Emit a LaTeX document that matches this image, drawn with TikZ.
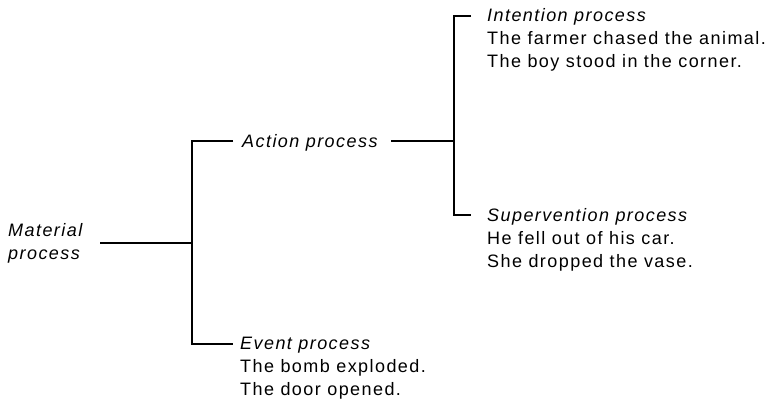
\documentclass[tikz,border=0pt]{standalone}
\usepackage{fontspec}
\setmainfont{Liberation Sans}[LetterSpace=8]
\begin{document}
\begin{tikzpicture}[x=1pt,y=-1pt,
  conn/.style={line width=1.6pt, black},
  lbl/.style={anchor=base west, inner sep=0pt, align=left, font=\fontsize{18}{23}\selectfont},
  ilbl/.style={lbl, font=\fontsize{18}{23}\selectfont\itshape}]
\useasboundingbox (0,0) rectangle (773,400);
% text (base anchor = baseline of the last line)
\node[ilbl] (mat) at (8,259) {Material\\process};
\node[ilbl] (act) at (242,147) {Action process};
\node[lbl] (evt) at (240,395) {\textit{Event process}\\The bomb exploded.\\The door opened.};
\node[lbl] (int) at (487,67) {\textit{Intention process}\\The farmer chased the animal.\\The boy stood in the corner.};
\node[lbl] (sup) at (487,267) {\textit{Supervention process}\\He fell out of his car.\\She dropped the vase.};
% junctions
\coordinate (m0) at (100,243);
\coordinate (j1) at (192,243);
\coordinate (j1t) at (192,141);
\coordinate (j1b) at (192,344);
\coordinate (aT) at (233,141);
\coordinate (eB) at (233,344);
\coordinate (a1) at (391,141);
\coordinate (j2) at (454,141);
\coordinate (j2t) at (454,16);
\coordinate (j2b) at (454,215);
\coordinate (iT) at (471,16);
\coordinate (sB) at (471,215);
\draw[conn] (m0) -- (j1);
\draw[conn] (aT) -- (j1t) -- (j1b) -- (eB);
\draw[conn] (a1) -- (j2);
\draw[conn] (iT) -- (j2t) -- (j2b) -- (sB);
\end{tikzpicture}
\end{document}
